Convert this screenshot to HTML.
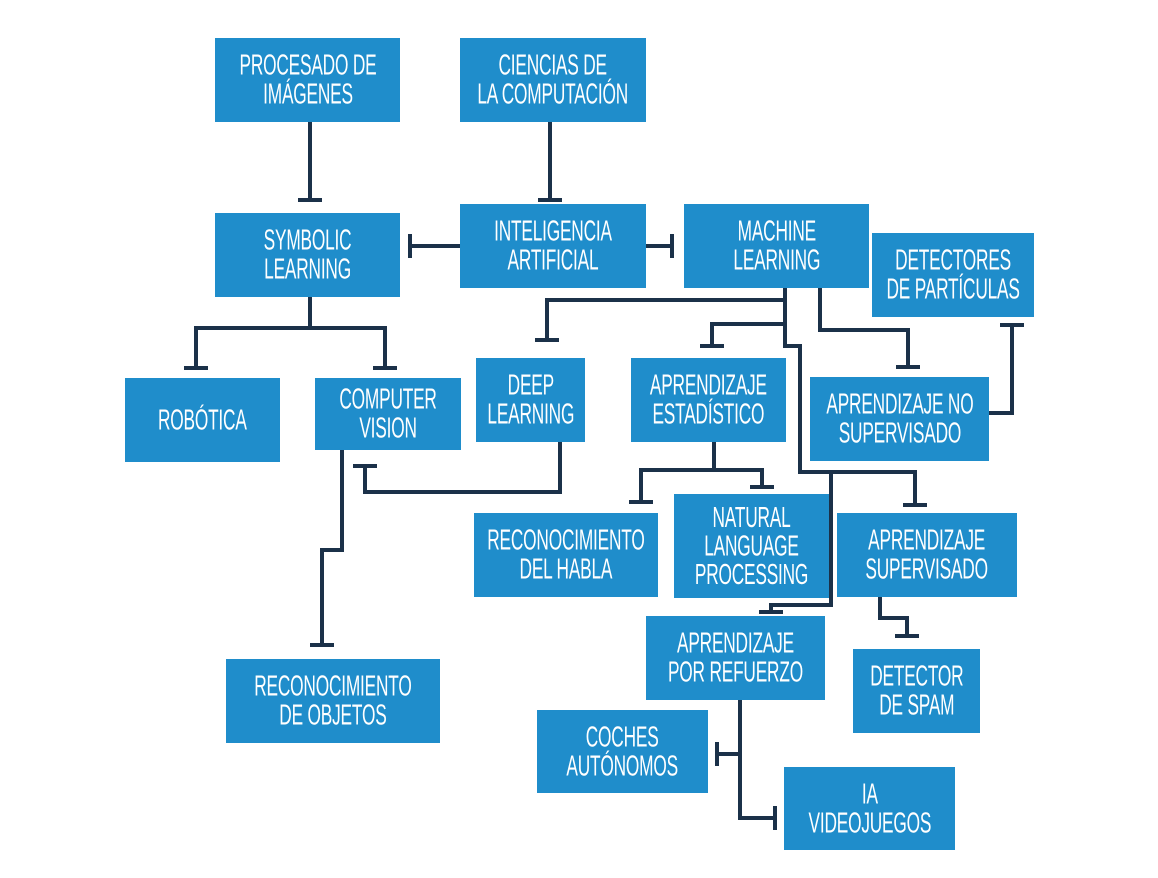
<!DOCTYPE html>
<html><head><meta charset="utf-8"><style>
body{margin:0;background:#fff;width:1158px;height:878px;position:relative;overflow:hidden}
.b{position:absolute;background:#1f8dcb;color:#fff;display:flex;align-items:center;justify-content:center;text-align:center;font-family:"Liberation Sans",sans-serif;font-size:27px;line-height:27px;white-space:nowrap}
.b span{display:inline-block;transform:scale(0.64,1.06);letter-spacing:-0.3px}
svg{position:absolute;left:0;top:0}
</style></head><body>
<svg width="1158" height="878" fill="none" stroke="#1b3149" stroke-width="4">
<path d="M310 122V200M298 200H322"/>
<path d="M550 122V200M538 200H562"/>
<path d="M460 246H410M410 234V258"/>
<path d="M646 246H672M672 234V258"/>
<path d="M310 297V328M196 328H385M196 326V368M184 368H208M385 326V368M373 368H397"/>
<path d="M785 288V346H800V472H915V505M903 505H927"/>
<path d="M547 300H785M547 298V340M535 340H559"/>
<path d="M712 324H785M712 322V346M700 346H724"/>
<path d="M831 472V605H771V612M759 612H783"/>
<path d="M820 288V330H908V367M896 367H920"/>
<path d="M989 413H1012V325M1000 325H1024"/>
<path d="M714 442V470H641V502M629 502H653M641 470H762V487M750 487H774"/>
<path d="M560 442V492H365V466M353 466H377"/>
<path d="M342 450V550H322V645M310 645H334"/>
<path d="M880 597V618H907V636M895 636H919"/>
<path d="M740 700V818H775M775 806V830M740 754H717M717 742V766"/>
</svg>
<div class="b" style="left:215px;top:38px;width:185px;height:84px"><span>PROCESADO DE<br>IMÁGENES</span></div>
<div class="b" style="left:460px;top:38px;width:186px;height:84px"><span>CIENCIAS DE<br>LA COMPUTACIÓN</span></div>
<div class="b" style="left:215px;top:213px;width:185px;height:84px"><span>SYMBOLIC<br>LEARNING</span></div>
<div class="b" style="left:460px;top:204px;width:186px;height:84px"><span>INTELIGENCIA<br>ARTIFICIAL</span></div>
<div class="b" style="left:684px;top:204px;width:185px;height:84px"><span>MACHINE<br>LEARNING</span></div>
<div class="b" style="left:872px;top:233px;width:162px;height:84px"><span>DETECTORES<br>DE PARTÍCULAS</span></div>
<div class="b" style="left:125px;top:378px;width:155px;height:84px"><span>ROBÓTICA</span></div>
<div class="b" style="left:315px;top:378px;width:146px;height:72px"><span>COMPUTER<br>VISION</span></div>
<div class="b" style="left:476px;top:358px;width:109px;height:84px"><span>DEEP<br>LEARNING</span></div>
<div class="b" style="left:631px;top:358px;width:155px;height:84px"><span>APRENDIZAJE<br>ESTADÍSTICO</span></div>
<div class="b" style="left:810px;top:377px;width:179px;height:84px"><span>APRENDIZAJE NO<br>SUPERVISADO</span></div>
<div class="b" style="left:474px;top:513px;width:184px;height:84px"><span>RECONOCIMIENTO<br>DEL HABLA</span></div>
<div class="b" style="left:674px;top:494px;width:155px;height:104px"><span>NATURAL<br>LANGUAGE<br>PROCESSING</span></div>
<div class="b" style="left:837px;top:513px;width:180px;height:84px"><span>APRENDIZAJE<br>SUPERVISADO</span></div>
<div class="b" style="left:646px;top:616px;width:179px;height:84px"><span>APRENDIZAJE<br>POR REFUERZO</span></div>
<div class="b" style="left:853px;top:649px;width:127px;height:84px"><span>DETECTOR<br>DE SPAM</span></div>
<div class="b" style="left:226px;top:659px;width:214px;height:84px"><span>RECONOCIMIENTO<br>DE OBJETOS</span></div>
<div class="b" style="left:537px;top:710px;width:171px;height:83px"><span>COCHES<br>AUTÓNOMOS</span></div>
<div class="b" style="left:784px;top:767px;width:171px;height:83px"><span>IA<br>VIDEOJUEGOS</span></div>
</body></html>
